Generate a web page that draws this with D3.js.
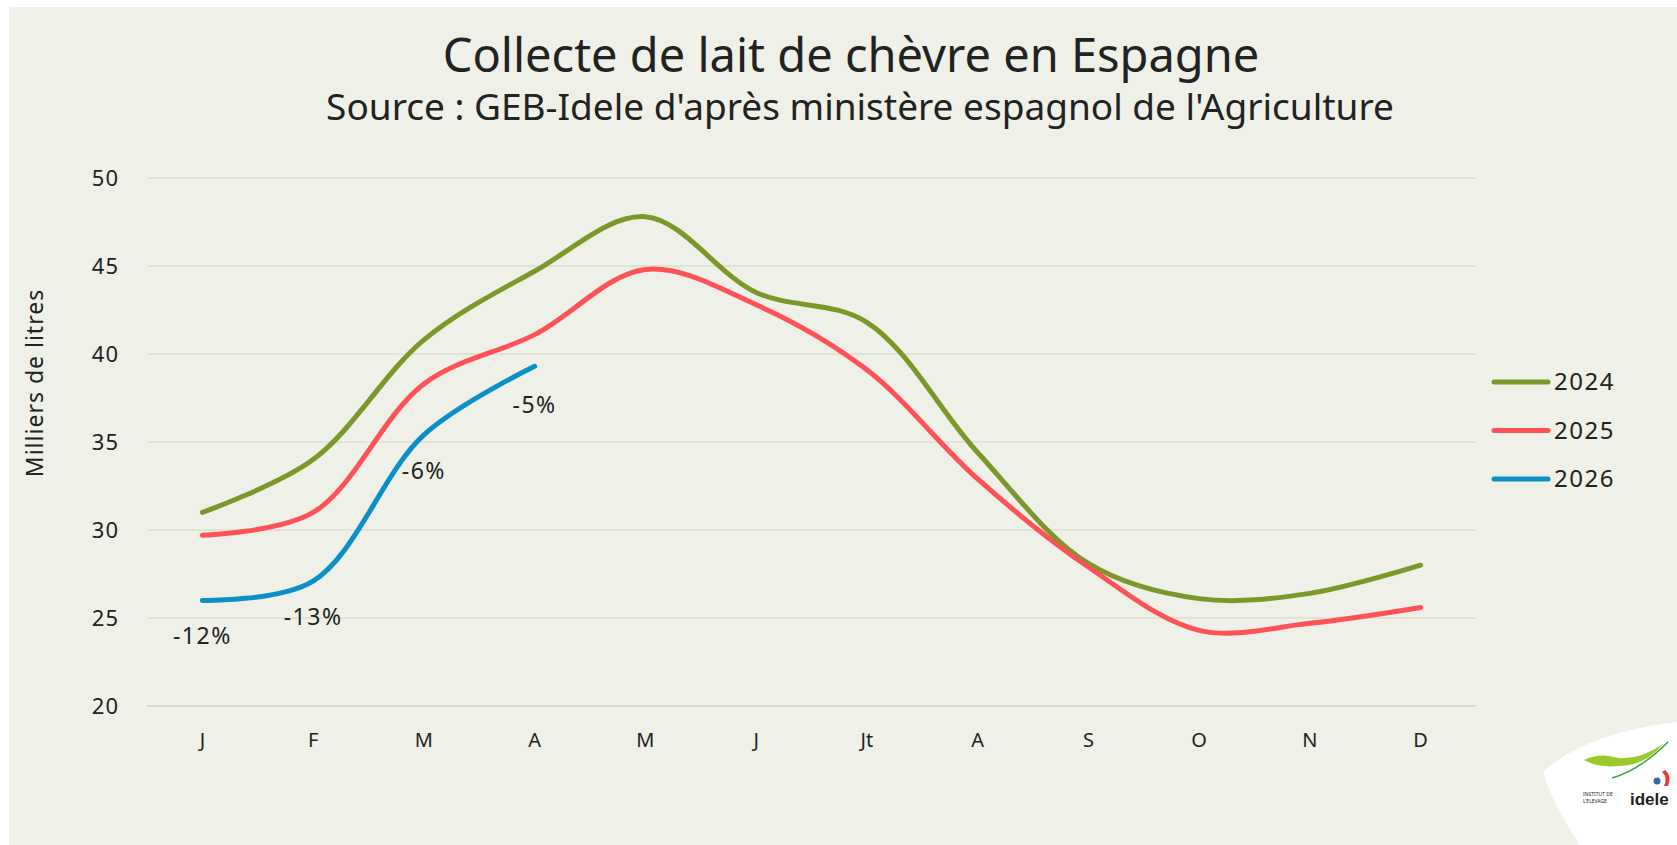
<!DOCTYPE html>
<html><head><meta charset="utf-8">
<script src="https://cdn.jsdelivr.net/npm/d3@7"></script>
<style>
html,body{margin:0;padding:0;background:#ffffff;}
svg{display:block;}
text{font-family:"Noto Sans",sans-serif;fill:#222;}
</style></head>
<body><svg id="chart" width="1677" height="845"></svg>
<script>
const months = ["J","F","M","A","M","J","Jt","A","S","O","N","D"];
const years = ["2024","2025","2026"];
const v2024 = [31.0, 34.0, 40.8, 44.7, 47.8, 43.5, 41.8, 34.4, 28.1, 26.1, 26.4, 28.0];
const v2025 = [29.7, 31.0, 38.3, 41.1, 44.8, 42.8, 39.1, 32.9, 27.9, 24.3, 24.7, 25.6];
const v2026 = [26.0, 27.1, 35.4, 39.3];
const labels2026 = ["-12%", "-13%", "-6%", "-5%"];
const yTicks = [20, 25, 30, 35, 40, 45, 50];
const colors = ["#7b992b", "#ff5257", "#0a8fc6"];
const title = "Collecte de lait de chèvre en Espagne";
const subtitle = "Source : GEB-Idele d'après ministère espagnol de l'Agriculture";
const yTitle = "Milliers de litres";

const svg = d3.select("#chart");
svg.append("rect").attr("x", 9).attr("y", 7).attr("width", 1677 - 9).attr("height", 845 - 7).attr("fill", "#eff0e7");

const x = d3.scaleBand().domain(d3.range(12)).range([147, 1476]);
const y = d3.scaleLinear().domain([20, 50]).range([706, 178]);
const cx = i => x(i) + x.bandwidth() / 2;

// gridlines
svg.append("g").selectAll("line").data(yTicks).join("line")
  .attr("x1", 147).attr("x2", 1476)
  .attr("y1", d => y(d)).attr("y2", d => y(d))
  .attr("stroke", d => d === 20 ? "#d9d9d4" : "#e2e3d5").attr("stroke-width", 2);

// y axis
const yAxis = svg.append("g").attr("transform", "translate(119,0)")
  .call(d3.axisLeft(y).tickValues(yTicks).tickSize(0).tickPadding(0));
yAxis.select(".domain").remove();
yAxis.selectAll("text").style("font-family", "'Noto Sans',sans-serif").style("font-size", "22px")
  .style("letter-spacing", "1px").attr("fill", "#222").attr("dy", "0.35em");

// x axis
const xAxis = svg.append("g").attr("transform", "translate(0,706)")
  .call(d3.axisBottom(x).tickFormat(i => months[i]).tickSize(0).tickPadding(27));
xAxis.select(".domain").remove();
xAxis.selectAll("text").style("font-family", "'Noto Sans',sans-serif").style("font-size", "20px").attr("fill", "#222");

// lines
const line = d3.line().x((d, i) => cx(i)).y(d => y(d)).curve(d3.curveCatmullRom.alpha(0.5));
[v2024, v2025, v2026].forEach((vals, k) => {
  svg.append("path").datum(vals).attr("d", line)
    .attr("fill", "none").attr("stroke", colors[k]).attr("stroke-width", 5)
    .attr("stroke-linecap", "round").attr("stroke-linejoin", "round");
});

// data labels
svg.append("g").selectAll("text").data(v2026).join("text")
  .attr("x", (d, i) => cx(i)).attr("y", (d, i) => y(d) + (i === 3 ? 38 : 35))
  .attr("text-anchor", "middle").attr("dominant-baseline", "central")
  .style("font-size", "23px").style("letter-spacing", "1.5px").text((d, i) => labels2026[i]);

// titles
svg.append("text").attr("x", 851).attr("y", 72).attr("text-anchor", "middle")
  .style("font-size", "47px").text(title);
svg.append("text").attr("x", 860).attr("y", 120).attr("text-anchor", "middle")
  .style("font-size", "37px").text(subtitle);
svg.append("text").attr("transform", "translate(43,383) rotate(-90)").attr("text-anchor", "middle")
  .style("font-size", "23px").style("letter-spacing", "1px").text(yTitle);

// legend
const leg = svg.append("g").selectAll("g").data(years).join("g")
  .attr("transform", (d, i) => `translate(1494,${382 + i * 48.5})`);
leg.append("line").attr("x1", 0).attr("x2", 54).attr("stroke", (d, i) => colors[i])
  .attr("stroke-width", 5).attr("stroke-linecap", "round");
leg.append("text").attr("x", 60).attr("dy", "0.35em").style("font-size", "24px")
  .style("letter-spacing", "1.5px").text(d => d);

// logo
const logo = svg.append("g");
logo.append("path").attr("d", "M1543,772 Q1585,733 1677,722 L1677,845 L1580,845 Q1553,805 1543,772 Z").attr("fill", "#ffffff");
logo.append("path").attr("d", "M1584,760 Q1600,752 1618,758 Q1640,760 1663,744 Q1645,766 1618,766 Q1598,768 1584,760 Z").attr("fill", "#9cc92a");
logo.append("path").attr("d", "M1612,778 Q1640,770 1668,742").attr("fill", "none").attr("stroke", "#3aa040").attr("stroke-width", 1.5);
logo.append("path").attr("d", "M1665,770 Q1672,775 1668,786 L1664,786 Q1668,777 1662,772 Z").attr("fill", "#e63a3a");
logo.append("circle").attr("cx", 1657).attr("cy", 781).attr("r", 3.5).attr("fill", "#3a66b0");
logo.append("text").attr("x", 1630).attr("y", 805).style("font-size", "17px").style("font-weight", "bold").style("font-family", "'Liberation Sans Narrow','Liberation Sans',sans-serif").attr("fill", "#1f5fae").text("idele");
logo.append("text").attr("x", 1583).attr("y", 796).style("font-size", "5px").attr("fill", "#4a6aa0").text("INSTITUT DE");
logo.append("text").attr("x", 1583).attr("y", 803).style("font-size", "5px").attr("fill", "#4a6aa0").text("L'ÉLEVAGE");
</script></body></html>
